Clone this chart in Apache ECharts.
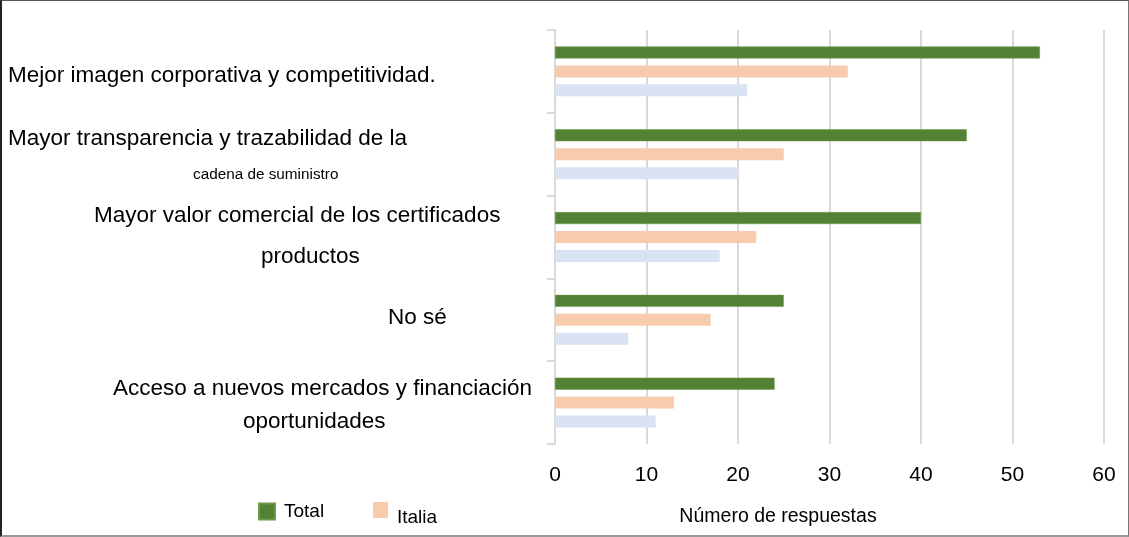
<!DOCTYPE html>
<html>
<head>
<meta charset="utf-8">
<script src="https://cdn.jsdelivr.net/npm/echarts@6/dist/echarts.min.js"></script>
<style>
  html, body { margin: 0; padding: 0; background: #fff; }
  #chart { position: absolute; left: 0; top: 0; width: 1129px; height: 537px; }
  #frame { position: absolute; left: 0; top: 0; width: 1129px; height: 537px; box-sizing: border-box;
           border-top: 1px solid #555; border-right: 1px solid #777; border-bottom: 2px solid #999; border-left: 2px solid #222;
           pointer-events: none; }
</style>
</head>
<body>
<div id="chart"></div>
<div id="frame"></div>
<script>
// ---- data ----
const categories = [
  'Mejor imagen corporativa y competitividad.',
  'Mayor transparencia y trazabilidad de la cadena de suministro',
  'Mayor valor comercial de los certificados productos',
  'No sé',
  'Acceso a nuevos mercados y financiación oportunidades'
];
const categoryLines = [
  ['Mejor imagen corporativa y competitividad.'],
  ['Mayor transparencia y trazabilidad de la', 'cadena de suministro'],
  ['Mayor valor comercial de los certificados', 'productos'],
  ['No sé'],
  ['Acceso a nuevos mercados y financiación', 'oportunidades']
];
const seriesNames = ['Total', 'Italia', 'Otros'];
const totalValues = [53, 45, 40, 25, 24];
const italiaValues = [32, 25, 22, 17, 13];
const otrosValues = [21, 20, 18, 8, 11];
const xTicks = [0, 10, 20, 30, 40, 50, 60];
const xAxisTitle = 'Número de respuestas';

// ---- label styling (layout only) ----
const FONT = "'Liberation Sans', Arial, sans-serif";
// per category, per line: [indent px, lineHeight px, fontSize px, top padding, bottom padding]
const lineStyles = [
  [[0, 23, 22.5, 8, 0]],
  [[0, 41, 22.5, 4, 0], [185, 35, 15.3, 0, 0]],
  [[86, 39, 22.5, 2, 0], [253, 45, 22.5, 0, 0]],
  [[380, 23, 22.5, 0, 5]],
  [[105, 39, 22.5, 6, 0], [235, 33, 22.5, 0, 0]]
];
const rich = {};
lineStyles.forEach((ls, ci) => {
  ls.forEach((s, li) => {
    rich['c' + ci + 'l' + li] = {
      fontFamily: FONT, fontSize: s[2], color: '#000',
      lineHeight: s[1], padding: [s[3], 0, s[4], s[0]]
    };
  });
});

const chart = echarts.init(document.getElementById('chart'), null, { renderer: 'canvas' });
chart.setOption({
  animation: false,
  backgroundColor: '#fff',
  textStyle: { fontFamily: FONT },
  grid: { left: 555, right: 25, top: 30, bottom: 93, containLabel: false },
  legend: [
    {
      data: ['Total'], left: 258, top: 502, padding: 0, itemWidth: 16, itemHeight: 16, icon: 'rect', itemGap: 0,
      formatter: '{t|{name}}',
      textStyle: { fontFamily: FONT, fontSize: 19, color: '#000',
        rich: { t: { fontFamily: FONT, fontSize: 19, color: '#000', padding: [0, 0, 0, 4] } } }
    },
    {
      data: ['Italia'], left: 373, top: 502, padding: 0, itemWidth: 15, itemHeight: 16, icon: 'rect', itemGap: 0,
      formatter: '{t|{name}}',
      textStyle: { fontFamily: FONT, fontSize: 19, color: '#000',
        rich: { t: { fontFamily: FONT, fontSize: 19, color: '#000', padding: [15, 0, 0, 4] } } }
    }
  ],
  xAxis: {
    type: 'value', min: xTicks[0], max: xTicks[xTicks.length - 1], interval: 10,
    axisLine: { show: false }, axisTick: { show: false },
    splitLine: { show: true, lineStyle: { color: '#d9d9d9', width: 2 } },
    axisLabel: { fontFamily: FONT, fontSize: 21, color: '#000', margin: 21 },
    name: xAxisTitle, nameLocation: 'middle', nameGap: 63,
    nameTextStyle: { fontFamily: FONT, fontSize: 19.5, color: '#000', padding: [0, 103, 0, 0] }
  },
  yAxis: {
    type: 'category', data: categories, inverse: true,
    axisLine: { show: true, lineStyle: { color: '#d9d9d9', width: 2 } },
    axisTick: { show: true, length: 8, lineStyle: { color: '#d9d9d9', width: 2 } },
    splitLine: { show: false },
    axisLabel: {
      interval: 0, align: 'left', margin: 547, hideOverlap: false,
      formatter: function (value, idx) {
        const ci = categories.indexOf(value);
        return categoryLines[ci].map((t, li) => '{c' + ci + 'l' + li + '|' + t + '}').join('\n');
      },
      rich: rich
    }
  },
  series: [
    { name: seriesNames[0], type: 'bar', data: totalValues, barWidth: 12, barGap: '58%',
      itemStyle: { color: '#548235', borderColor: '#6a9a4a', borderWidth: 0.5 } },
    { name: seriesNames[1], type: 'bar', data: italiaValues, barWidth: 12, barGap: '58%',
      itemStyle: { color: '#f8cbad' } },
    { name: seriesNames[2], type: 'bar', data: otrosValues, barWidth: 12, barGap: '58%',
      itemStyle: { color: '#dae3f3' } }
  ]
});
</script>
</body>
</html>
